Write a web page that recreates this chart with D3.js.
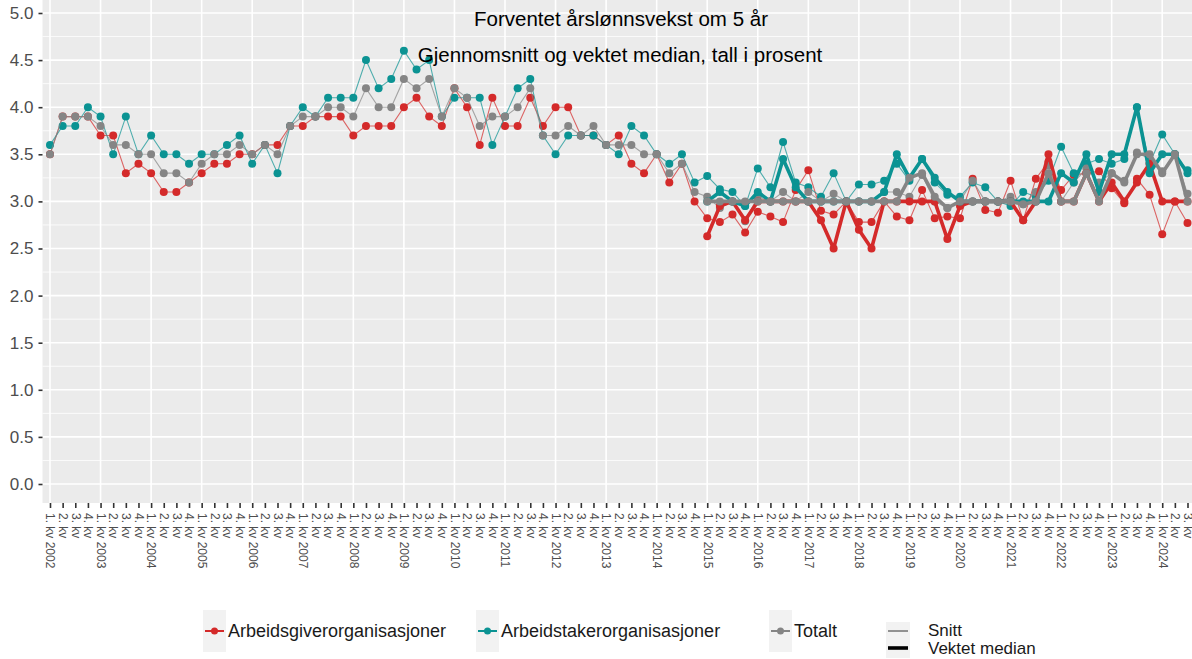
<!DOCTYPE html>
<html>
<head>
<meta charset="utf-8">
<script src="https://cdn.jsdelivr.net/npm/d3@7"></script>
<style>
  body { margin: 0; background: #fff; }
  svg { font-family: "Liberation Sans", Arial, sans-serif; }
</style>
</head>
<body>
<div id="chart"></div>
<script>
// quarters 1. kv 2002 .. 3. kv 2024
var years = [2002, 2003, 2004, 2005, 2006, 2007, 2008, 2009, 2010, 2011, 2012, 2013,
             2014, 2015, 2016, 2017, 2018, 2019, 2020, 2021, 2022, 2023, 2024];
var quarterNames = ["1. kv", "2. kv", "3. kv", "4. kv"];
var lastQuarter = 3;

// Snitt (gjennomsnitt), 1. kv 2002 - 3. kv 2024
var snittArbeidsgiver = [
  3.5, 3.9, 3.9, 3.9, 3.7, 3.7, 3.3, 3.4, 3.3, 3.1, 3.1, 3.2,
  3.3, 3.4, 3.4, 3.5, 3.5, 3.6, 3.6, 3.8, 3.8, 3.9, 3.9, 3.9,
  3.7, 3.8, 3.8, 3.8, 4.0, 4.1, 3.9, 3.8, 4.2, 4.0, 3.6, 4.1,
  3.8, 3.8, 4.1, 3.8, 4.0, 4.0, 3.7, 3.7, 3.6, 3.7, 3.4, 3.3,
  3.5, 3.2, 3.4, 3.0,
  2.82, 2.78, 2.86, 2.67, 2.89, 2.84, 2.78, 3.12, 3.33, 2.9, 2.86, 3.0,
  2.78, 2.78, 3.0, 2.84, 2.8, 3.12, 2.82, 2.84, 2.82, 3.24, 2.91, 2.88,
  3.22, 2.8, 3.24, 3.42, 3.12, 3.28, 3.3, 3.32, 3.14, 2.98, 3.24, 3.07,
  2.65, 3.0, 2.77
];
var snittArbeidstaker = [
  3.6, 3.8, 3.8, 4.0, 3.9, 3.5, 3.9, 3.5, 3.7, 3.5, 3.5, 3.4,
  3.5, 3.5, 3.6, 3.7, 3.4, 3.6, 3.3, 3.8, 4.0, 3.9, 4.1, 4.1,
  4.1, 4.5, 4.2, 4.3, 4.6, 4.4, 4.5, 3.9, 4.1, 4.1, 4.1, 3.6,
  3.9, 4.2, 4.3, 3.7, 3.5, 3.7, 3.7, 3.7, 3.6, 3.5, 3.8, 3.7,
  3.5, 3.4, 3.5, 3.2,
  3.27, 3.13, 3.1, 2.95, 3.35, 3.15, 3.63, 3.2, 3.15, 3.05, 3.3, 3.0,
  3.18, 3.18, 3.22, 3.4, 3.22, 3.45, 3.2, 3.07, 3.05, 3.2, 3.15, 3.0,
  2.95, 3.1, 3.05, 3.22, 3.58, 3.3, 3.4, 3.45, 3.4, 3.45, 4.0, 3.4,
  3.71, 3.5, 3.33
];
var snittTotalt = [
  3.5, 3.9, 3.9, 3.9, 3.8, 3.6, 3.6, 3.5, 3.5, 3.3, 3.3, 3.2,
  3.4, 3.5, 3.5, 3.6, 3.5, 3.6, 3.5, 3.8, 3.9, 3.9, 4.0, 4.0,
  3.9, 4.2, 4.0, 4.0, 4.3, 4.2, 4.3, 3.9, 4.2, 4.1, 3.8, 3.9,
  3.9, 4.0, 4.2, 3.7, 3.7, 3.8, 3.7, 3.8, 3.6, 3.6, 3.6, 3.5,
  3.5, 3.3, 3.4, 3.1,
  3.05, 2.93, 3.0, 2.79, 3.05, 3.0, 3.1, 3.0, 3.1, 3.0, 3.08, 3.0,
  3.0, 3.0, 3.1, 3.1, 3.05, 3.28, 3.0, 2.93, 3.0, 3.22, 3.0, 3.0,
  3.05, 2.97, 3.1, 3.38, 3.0, 3.2, 3.35, 3.2, 3.3, 3.22, 3.52, 3.45,
  3.32, 3.5, 3.08
];

// Vektet median, 1. kv 2015 - 3. kv 2024
var medianStart = 52;
var medianArbeidsgiver = [
  2.63, 2.95, 3.0, 2.8, 3.0, 3.0, 3.0, 3.0, 3.0, 2.8, 2.5, 3.0,
  2.7, 2.5, 3.0, 3.0, 3.0, 3.0, 3.0, 2.6, 2.95, 3.0, 3.0, 3.0,
  3.0, 2.8, 3.0, 3.5, 3.0, 3.0, 3.3, 3.0, 3.2, 3.0, 3.2, 3.4,
  3.0, 3.0, 3.0
];
var medianArbeidstaker = [
  3.0, 3.1, 3.0, 2.95, 3.1, 3.0, 3.45, 3.15, 3.0, 3.0, 3.0, 3.0,
  3.0, 3.0, 3.1, 3.5, 3.25, 3.45, 3.25, 3.1, 3.0, 3.0, 3.0, 3.0,
  3.0, 3.0, 3.0, 3.0, 3.3, 3.2, 3.5, 3.1, 3.5, 3.5, 4.0, 3.3,
  3.5, 3.5, 3.3
];
var medianTotalt = [
  3.0, 3.0, 3.0, 3.0, 3.0, 3.0, 3.0, 3.0, 3.0, 3.0, 3.0, 3.0,
  3.0, 3.0, 3.0, 3.0, 3.25, 3.3, 3.05, 2.93, 3.0, 3.0, 3.0, 3.0,
  3.0, 2.97, 3.0, 3.3, 3.0, 3.0, 3.3, 3.0, 3.3, 3.2, 3.5, 3.5,
  3.3, 3.5, 3.0
];

var yTicks = [0, 0.5, 1, 1.5, 2, 2.5, 3, 3.5, 4, 4.5, 5];
var groups = ["Arbeidsgiverorganisasjoner", "Arbeidstakerorganisasjoner", "Totalt"];
var colors = ["#d42a2a", "#0b9393", "#858585"];

// build the quarter labels
var labels = [];
years.forEach(function (yr) {
    quarterNames.forEach(function (q, k) {
        if (yr == years[years.length - 1] && k >= lastQuarter) return;
        labels.push(k == 0 ? q + " " + yr : q);
    });
});

var width = 1192, height = 659;
var svg = d3.select("#chart").append("svg")
    .attr("width", width)
    .attr("height", height);

var panel = {left: 42.5, right: 1195, top: -10, bottom: 503};

var x = d3.scalePoint().domain(d3.range(labels.length)).range([50, 1187.5]);
var y = d3.scaleLinear().domain([0, 5]).range([484, 13]);

// panel background
svg.append("rect")
    .attr("x", panel.left)
    .attr("y", panel.top)
    .attr("width", panel.right - panel.left)
    .attr("height", panel.bottom - panel.top)
    .attr("fill", "#ebebeb");

// grid
var grid = svg.append("g");
var minor = yTicks.slice(0, -1).map(function (v) { return v + 0.25; });
minor.push(5.25);
grid.selectAll(".ymin").data(minor).enter().append("line")
    .attr("x1", panel.left).attr("x2", panel.right)
    .attr("y1", function (d) { return y(d); })
    .attr("y2", function (d) { return y(d); })
    .attr("stroke", "#fff").attr("stroke-width", 0.8);
grid.selectAll(".ymaj").data(yTicks).enter().append("line")
    .attr("x1", panel.left).attr("x2", panel.right)
    .attr("y1", function (d) { return y(d); })
    .attr("y2", function (d) { return y(d); })
    .attr("stroke", "#fff").attr("stroke-width", 1.6);
var yearIdx = d3.range(labels.length).filter(function (i) { return i % 4 == 0; });
grid.selectAll(".xmaj").data(yearIdx).enter().append("line")
    .attr("x1", function (d) { return x(d); })
    .attr("x2", function (d) { return x(d); })
    .attr("y1", panel.top).attr("y2", panel.bottom)
    .attr("stroke", "#fff").attr("stroke-width", 1.6);

// axes
var xAxis = svg.append("g")
    .attr("transform", "translate(0," + panel.bottom + ")")
    .call(d3.axisBottom(x).tickSize(5).tickFormat(function (i) { return labels[i]; }));
xAxis.select(".domain").remove();
xAxis.selectAll("line").attr("stroke", "#333").attr("stroke-width", 1.6);
xAxis.selectAll("text")
    .attr("transform", "rotate(90)")
    .attr("x", 10)
    .attr("y", 0)
    .attr("dy", "0.35em")
    .style("text-anchor", "start")
    .attr("fill", "#4d4d4d")
    .attr("font-size", 12)
    .attr("font-family", "Liberation Sans, Arial, sans-serif");

var yAxis = svg.append("g")
    .attr("transform", "translate(" + panel.left + ",0)")
    .call(d3.axisLeft(y).tickValues(yTicks).tickSize(4).tickFormat(d3.format(".1f")));
yAxis.select(".domain").remove();
yAxis.selectAll("line").attr("stroke", "#333").attr("stroke-width", 1.6);
yAxis.selectAll("text")
    .attr("fill", "#4d4d4d")
    .attr("font-size", 17)
    .attr("x", -9)
    .attr("font-family", "Liberation Sans, Arial, sans-serif");

// series
var snitt = [snittArbeidsgiver, snittArbeidstaker, snittTotalt];
var median = [medianArbeidsgiver, medianArbeidstaker, medianTotalt];

var line = d3.line()
    .x(function (d) { return x(d.i); })
    .y(function (d) { return y(d.v); });

var plot = svg.append("g");

snitt.forEach(function (vals, s) {
    var pts = vals.map(function (v, i) { return {i: i, v: v}; });
    plot.append("path")
        .datum(pts)
        .attr("d", line)
        .attr("fill", "none")
        .attr("stroke", colors[s])
        .attr("stroke-opacity", 0.7)
        .attr("stroke-width", 1.1);
    plot.append("g").selectAll("circle")
        .data(pts).enter().append("circle")
        .attr("cx", function (d) { return x(d.i); })
        .attr("cy", function (d) { return y(d.v); })
        .attr("r", 4)
        .attr("fill", colors[s]);
});

median.forEach(function (vals, s) {
    var pts = vals.map(function (v, i) { return {i: i + medianStart, v: v}; });
    plot.append("path")
        .datum(pts)
        .attr("d", line)
        .attr("fill", "none")
        .attr("stroke", colors[s])
        .attr("stroke-width", 3.6)
        .attr("stroke-linejoin", "round");
    plot.append("g").selectAll("circle")
        .data(pts).enter().append("circle")
        .attr("cx", function (d) { return x(d.i); })
        .attr("cy", function (d) { return y(d.v); })
        .attr("r", 4)
        .attr("fill", colors[s]);
});

// titles
svg.append("text")
    .attr("x", 621).attr("y", 26)
    .attr("text-anchor", "middle")
    .attr("font-size", 20.5)
    .attr("fill", "#000")
    .text("Forventet årslønnsvekst om 5 år");
svg.append("text")
    .attr("x", 620).attr("y", 62)
    .attr("text-anchor", "middle")
    .attr("font-size", 20.5)
    .attr("fill", "#000")
    .text("Gjennomsnitt og vektet median, tall i prosent");

// legend
var legendX = [203, 476, 769];
var legend = svg.append("g")
    .selectAll("g")
    .data(groups)
    .enter().append("g")
    .attr("transform", function (d, i) { return "translate(" + legendX[i] + ",610)"; });
legend.append("rect")
    .attr("width", 23).attr("height", 42)
    .attr("fill", "#f2f2f2");
legend.append("line")
    .attr("x1", 2).attr("x2", 21)
    .attr("y1", 21).attr("y2", 21)
    .attr("stroke", function (d, i) { return colors[i]; })
    .attr("stroke-width", 2);
legend.append("circle")
    .attr("cx", 11.5).attr("cy", 21).attr("r", 3.5)
    .attr("fill", function (d, i) { return colors[i]; });
legend.append("text")
    .attr("x", 25).attr("y", 21).attr("dy", "0.35em")
    .attr("font-size", 18)
    .attr("fill", "#1a1a1a")
    .text(function (d) { return d; });

var lt = svg.append("g").attr("transform", "translate(886,622)");
lt.append("rect").attr("width", 24).attr("height", 36).attr("fill", "#f2f2f2");
lt.append("line").attr("x1", 2).attr("x2", 22).attr("y1", 9).attr("y2", 9)
    .attr("stroke", "#000").attr("stroke-width", 0.8);
lt.append("line").attr("x1", 2).attr("x2", 22).attr("y1", 26).attr("y2", 26)
    .attr("stroke", "#000").attr("stroke-width", 3.6);
lt.append("text").attr("x", 42).attr("y", 8).attr("dy", "0.35em")
    .attr("font-size", 17).attr("fill", "#1a1a1a").text("Snitt");
lt.append("text").attr("x", 42).attr("y", 26).attr("dy", "0.35em")
    .attr("font-size", 17).attr("fill", "#1a1a1a").text("Vektet median");
</script>
</body>
</html>
